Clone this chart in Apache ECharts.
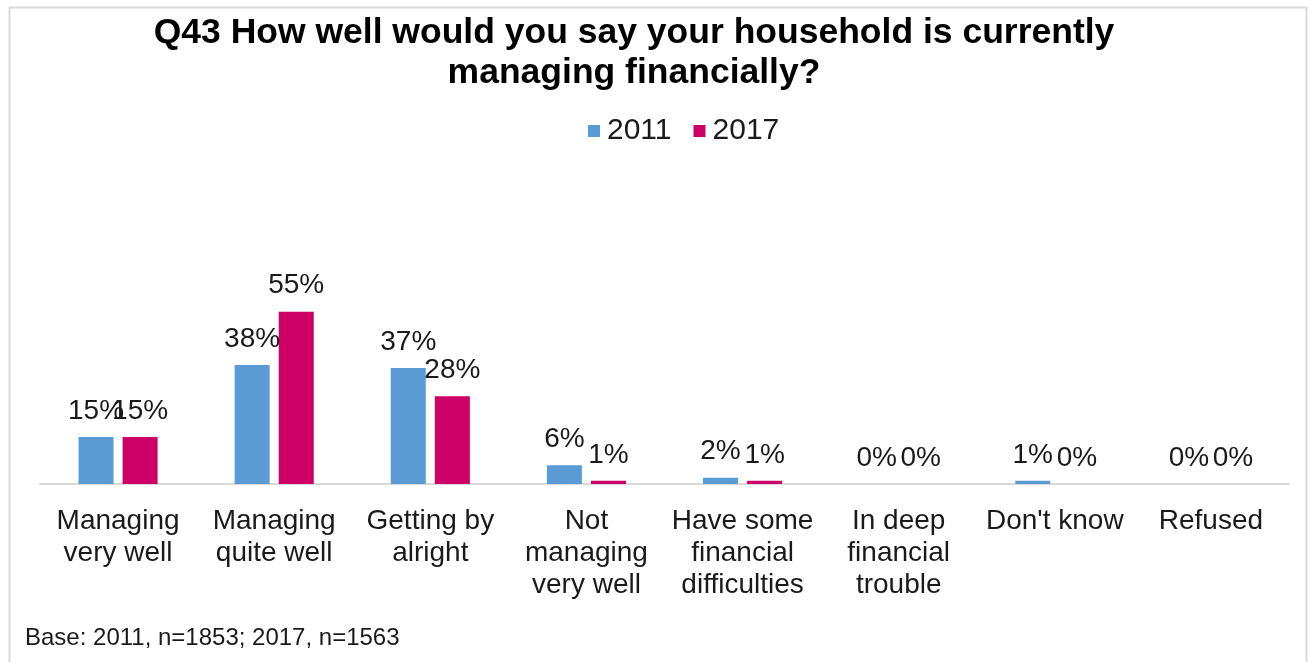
<!DOCTYPE html>
<html>
<head>
<meta charset="utf-8">
<script src="https://cdn.jsdelivr.net/npm/echarts@6/dist/echarts.min.js"></script>
<style>
  html, body { margin: 0; padding: 0; background: #ffffff; }
  #chart { width: 1308px; height: 662px; }
</style>
</head>
<body>
<div id="chart"></div>
<script>
// Survey answers and the share of households giving each one
const categories = [
  'Managing\nvery well',
  'Managing\nquite well',
  'Getting by\nalright',
  'Not\nmanaging\nvery well',
  'Have some\nfinancial\ndifficulties',
  'In deep\nfinancial\ntrouble',
  "Don't know",
  'Refused'
];
const seriesNames = ['2011', '2017'];
const values2011 = [15, 38, 37, 6, 2, 0, 1, 0];
const values2017 = [15, 55, 28, 1, 1, 0, 0, 0];

const FONT = '"Liberation Sans", Arial, Helvetica, sans-serif';
const BLUE = '#5b9bd5';
const PINK = '#cc0066';

const chart = echarts.init(document.getElementById('chart'), null, { renderer: 'canvas' });

function barSeries(name, data, color) {
  return {
    name: name,
    type: 'bar',
    data: data,
    barWidth: 35,
    barGap: '26%',
    itemStyle: { color: color },
    label: {
      show: true,
      position: 'top',
      distance: 12,
      formatter: '{c}%',
      color: '#1a1a1a',
      fontFamily: FONT,
      fontSize: 28
    }
  };
}

chart.setOption({
  backgroundColor: '#ffffff',
  animation: false,
  title: {
    text: 'Q43 How well would you say your household is currently\nmanaging financially?',
    left: 629,
    textAlign: 'center',
    top: 8,
    textStyle: {
      fontFamily: FONT,
      fontSize: 35.5,
      fontWeight: 'bold',
      color: '#000000',
      lineHeight: 40
    }
  },
  legend: {
    data: seriesNames,
    top: 111,
    left: 583,
    itemWidth: 12,
    itemHeight: 12,
    itemGap: 22,
    icon: 'rect',
    textStyle: {
      fontFamily: FONT,
      fontSize: 30,
      color: '#1a1a1a',
      padding: [0, 0, 0, 2]
    }
  },
  grid: {
    left: 40,
    right: 1308 - 1289,
    top: 296,
    bottom: 662 - 484,
    containLabel: false
  },
  xAxis: {
    type: 'category',
    data: categories,
    axisLine: { show: true, lineStyle: { color: '#d9d9d9', width: 2 } },
    axisTick: { show: false },
    axisLabel: {
      interval: 0,
      margin: 21,
      fontFamily: FONT,
      fontSize: 28,
      lineHeight: 32,
      color: '#1a1a1a',
      align: 'center'
    }
  },
  yAxis: {
    type: 'value',
    min: 0,
    max: 60,
    show: false,
    splitLine: { show: false }
  },
  series: [
    barSeries(seriesNames[0], values2011, BLUE),
    barSeries(seriesNames[1], values2017, PINK)
  ],
  graphic: [
    {
      type: 'rect',
      left: 7,
      top: 5,
      shape: { width: 1297, height: 700 },
      style: { fill: 'none', stroke: '#d9d9d9', lineWidth: 2 },
      silent: true
    },
    {
      type: 'text',
      left: 25,
      top: 626,
      style: {
        text: 'Base: 2011, n=1853; 2017, n=1563',
        fontFamily: FONT,
        fontSize: 24,
        fill: '#1a1a1a'
      }
    }
  ]
});
</script>
</body>
</html>
